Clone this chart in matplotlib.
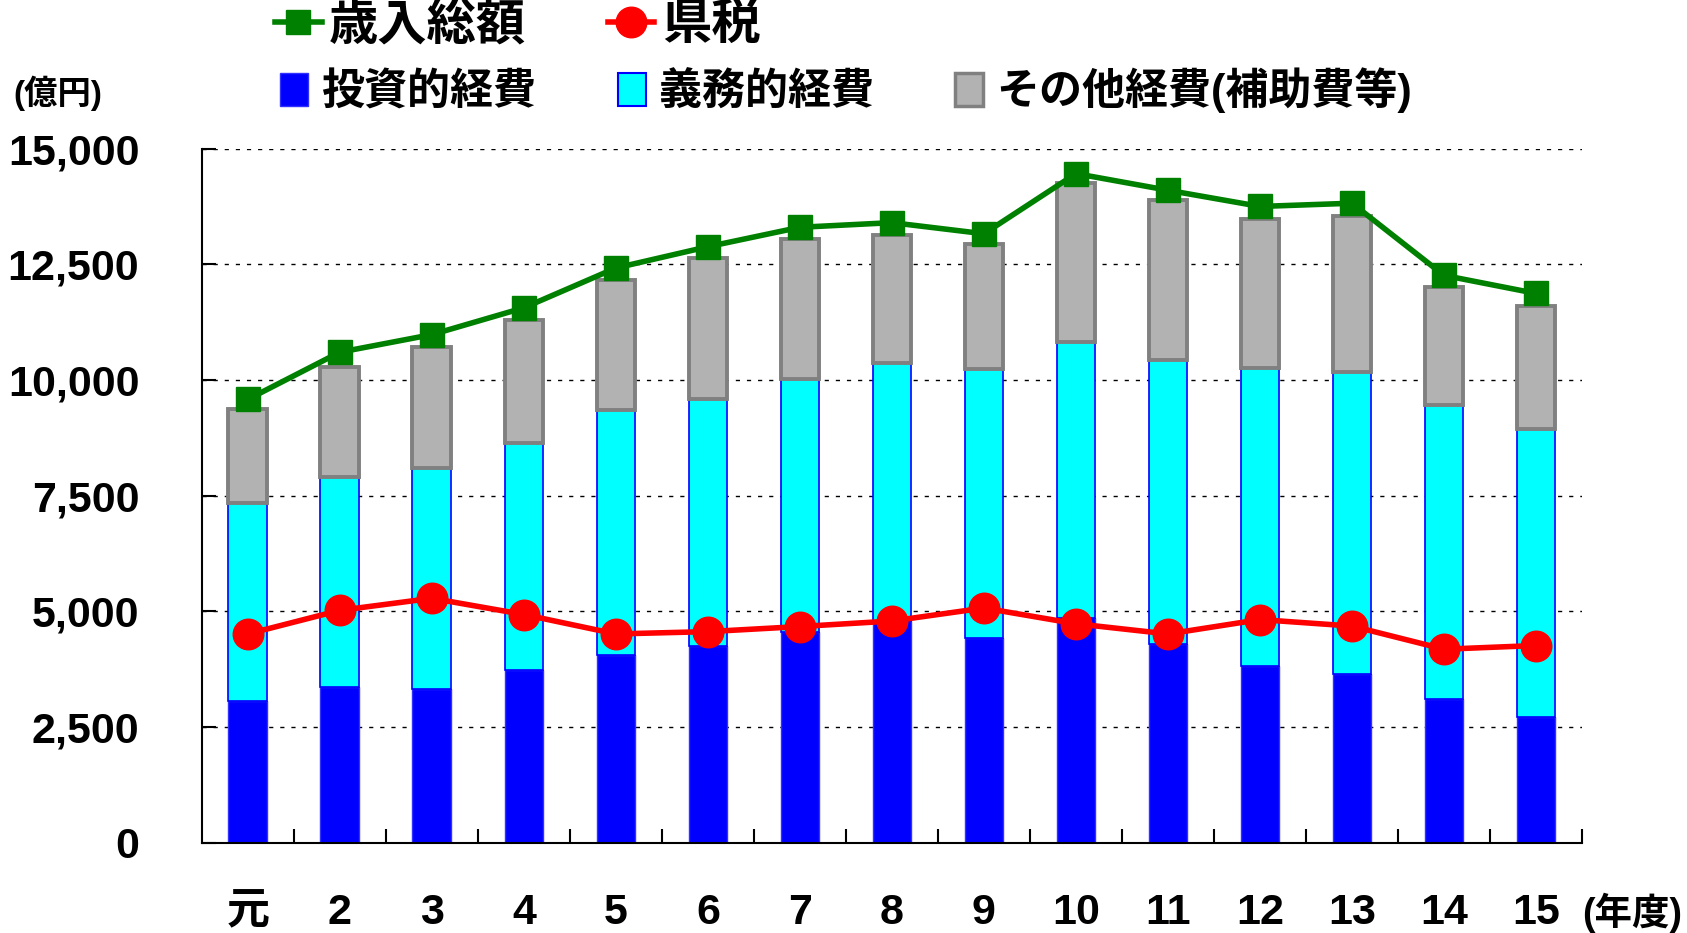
import matplotlib
matplotlib.use("Agg")
import matplotlib.pyplot as plt
import numpy as np
from matplotlib.lines import Line2D
from matplotlib.patches import Patch

plt.rcParams['font.family'] = ['Liberation Sans', 'Noto Sans CJK JP']
plt.rcParams['font.weight'] = 'bold'

# data (億円)
years = ['元', '2', '3', '4', '5', '6', '7', '8', '9', '10', '11', '12', '13', '14', '15']
toushi = [3070, 3370, 3330, 3740, 4050, 4260, 4560, 4790, 4420, 4850, 4290, 3820, 3650, 3110, 2720]
gimu_top = [7350, 7910, 8090, 8630, 9350, 9580, 10020, 10370, 10230, 10830, 10440, 10260, 10170, 9450, 8950]
sonota_top = [9370, 10280, 10720, 11300, 12160, 12630, 13050, 13140, 12930, 14260, 13880, 13470, 13550, 12010, 11600]
sainyu = [9580, 10600, 10980, 11560, 12420, 12880, 13300, 13400, 13160, 14460, 14100, 13750, 13820, 12260, 11870]
kenzei = [4510, 5020, 5280, 4930, 4510, 4560, 4670, 4790, 5070, 4730, 4510, 4820, 4680, 4180, 4260]

gimu = [g - t for g, t in zip(gimu_top, toushi)]
sonota = [s - g for s, g in zip(sonota_top, gimu_top)]

fig = plt.figure(figsize=(16.87, 9.33), dpi=100)
ax = fig.add_axes([0.1196, 0.0969, 0.8182, 0.7438])

x = np.arange(len(years))
w = 0.42
ax.bar(x, toushi, w, color='#0000FF', edgecolor='#3030FF', linewidth=1, zorder=2)
ax.bar(x, gimu, w, bottom=toushi, color='#00FFFF', edgecolor='#0000FF', linewidth=1.2, zorder=2)
ax.bar(x, sonota, w, bottom=gimu_top, color='#B2B2B2', edgecolor='#808080', linewidth=2.8, zorder=2)

ax.plot(x, sainyu, color='#008000', lw=4, marker='s', ms=17, zorder=4)
ax.plot(x, kenzei, color='#FF0000', lw=4, marker='o', ms=22, zorder=4)

ax.set_xlim(-0.5, len(years) - 0.5)
ax.set_ylim(0, 15000)
ax.set_yticks(np.arange(0, 15001, 2500))
ax.set_yticklabels([f'{v:,}' for v in range(0, 15001, 2500)], fontsize=31)
ax.set_xticks(x)
ax.set_xticklabels(years, fontsize=31)
ax.set_xticks(np.arange(0.5, len(years), 1), minor=True)
ax.tick_params(axis='x', which='major', length=0, pad=36)
ax.tick_params(axis='x', which='minor', direction='in', length=10, width=1.5)
ax.tick_params(axis='y', direction='in', length=10, width=1.5, pad=45)

ax.yaxis.grid(True, color='black', linestyle=(0, (3, 5)), linewidth=1)
ax.set_axisbelow(True)
for s in ['top', 'right']:
    ax.spines[s].set_visible(False)
for s in ['left', 'bottom']:
    ax.spines[s].set_linewidth(1.5)

# legends
h1 = [Line2D([], [], color='#008000', lw=4, marker='s', ms=17),
      Line2D([], [], color='#FF0000', lw=4, marker='o', ms=22)]
leg1 = fig.legend(h1, ['歳入総額', '県税'], ncol=2, loc='center left',
                  bbox_to_anchor=(0.163, 0.972), frameon=False, fontsize=35.5,
                  handlelength=0.95, handletextpad=0.15, columnspacing=1.65,
                  borderaxespad=0, borderpad=0)
h2 = [Patch(facecolor='#0000FF', edgecolor='#3030FF'),
      Patch(facecolor='#00FFFF', edgecolor='#0000FF', lw=1.5),
      Patch(facecolor='#B2B2B2', edgecolor='#808080', lw=2.5)]
leg2 = fig.legend(h2, ['投資的経費', '義務的経費', 'その他経費(補助費等)'], ncol=3,
                  loc='center left', bbox_to_anchor=(0.166, 0.903), frameon=False,
                  fontsize=31, handlelength=0.65, handleheight=0.8, handletextpad=0.3,
                  columnspacing=1.9, borderaxespad=0, borderpad=0)

fig.text(0.008, 0.9, '(億円)', fontsize=24, va='center', ha='left')
fig.text(0.997, 0.022, '(年度)', fontsize=27, va='center', ha='right')

fig.savefig('out.png', dpi=100)
